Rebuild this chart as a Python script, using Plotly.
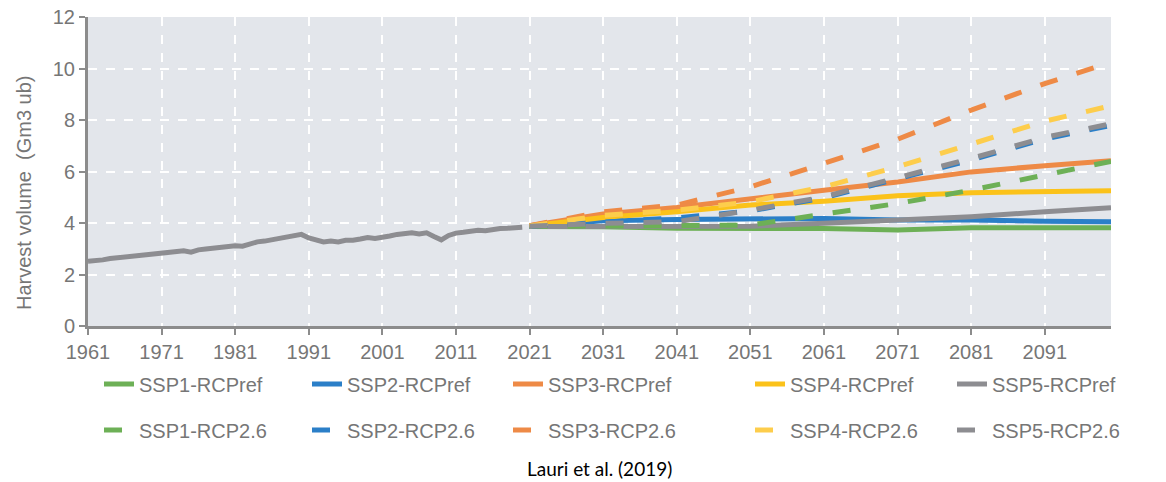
"""
Harvest volume scenarios (Lauri et al. 2019) - line chart, SSP x RCP.
"""

import plotly.graph_objects as go

# historic harvest, 1961-2020
hist_years = list(range(1961, 2021))
hist_values = [
    2.52, 2.53, 2.57, 2.62, 2.65, 2.67, 2.70, 2.73, 2.75, 2.79,
    2.82, 2.83, 2.88, 2.92, 2.87, 2.96, 2.99, 3.03, 3.07, 3.11,
    3.12, 3.10, 3.20, 3.27, 3.30, 3.36, 3.42, 3.47, 3.50, 3.56,
    3.42, 3.32, 3.27, 3.30, 3.27, 3.33, 3.33, 3.38, 3.44, 3.40,
    3.47, 3.50, 3.56, 3.58, 3.62, 3.58, 3.62, 3.48, 3.35, 3.52,
    3.61, 3.64, 3.68, 3.72, 3.70, 3.76, 3.79, 3.80, 3.82, 3.84,
]

proj_years = [2021, 2031, 2041, 2051, 2061, 2071, 2081, 2091, 2100]

ssp1_ref = [3.87, 3.86, 3.80, 3.80, 3.79, 3.73, 3.82, 3.82, 3.82]
ssp2_ref = [3.88, 4.09, 4.14, 4.18, 4.18, 4.12, 4.12, 4.07, 4.05]
ssp3_ref = [3.90, 4.35, 4.61, 4.96, 5.28, 5.60, 5.99, 6.23, 6.42]
ssp4_ref = [3.89, 4.22, 4.44, 4.70, 4.85, 5.06, 5.18, 5.24, 5.26]
ssp5_ref = [3.87, 3.88, 3.86, 3.88, 3.99, 4.12, 4.25, 4.44, 4.60]

ssp1_26 = [3.87, 3.88, 3.88, 3.92, 4.35, 4.76, 5.28, 5.86, 6.40]
ssp2_26 = [3.88, 4.02, 4.20, 4.47, 4.98, 5.72, 6.45, 7.27, 7.80]
ssp3_26 = [3.90, 4.44, 4.70, 5.41, 6.32, 7.26, 8.39, 9.42, 10.25]
ssp4_26 = [3.89, 4.30, 4.50, 4.83, 5.41, 6.19, 7.07, 7.96, 8.56]
ssp5_26 = [3.88, 3.99, 4.05, 4.50, 5.02, 5.77, 6.51, 7.33, 7.86]

x_ticks = list(range(1961, 2100, 10))
y_ticks = [0, 2, 4, 6, 8, 10, 12]

GREEN = "#6DB056"
BLUE = "#2B7FC8"
ORANGE = "#EE8A46"
YELLOW = "#FBC21A"
YELLOW_LIGHT = "#FDCD4C"
GREY = "#8D8D91"
TEXT = "#767676"
FONT = "Liberation Sans, Arial, sans-serif"

ref_series = [
    ("SSP1-RCPref", ssp1_ref, GREEN),
    ("SSP2-RCPref", ssp2_ref, BLUE),
    ("SSP3-RCPref", ssp3_ref, ORANGE),
    ("SSP4-RCPref", ssp4_ref, YELLOW),
    ("SSP5-RCPref", ssp5_ref, GREY),
]
rcp26_series = [
    ("SSP1-RCP2.6", ssp1_26, GREEN),
    ("SSP2-RCP2.6", ssp2_26, BLUE),
    ("SSP3-RCP2.6", ssp3_26, ORANGE),
    ("SSP4-RCP2.6", ssp4_26, YELLOW_LIGHT),
    ("SSP5-RCP2.6", ssp5_26, GREY),
]

# full window; the page body margin is removed in write_html below
W, H = 1166, 482

# legend text columns / rows in pixels (Excel legend is not evenly spaced)
legend_text_x = [139, 347, 548, 790, 992]
legend_row_y = [384, 430]

fig = go.Figure()

fig.add_trace(go.Scatter(
    x=hist_years, y=hist_values, mode="lines", showlegend=False,
    line=dict(color=GREY, width=5), hoverinfo="skip",
))

legends = {}
n = 0
for row, (series, dash) in enumerate([(ref_series, "solid"), (rcp26_series, "18px,20px")]):
    for col, (name, vals, colr) in enumerate(series):
        lg = "legend" if n == 0 else f"legend{n + 1}"
        n += 1
        fig.add_trace(go.Scatter(
            x=proj_years, y=vals, mode="lines", name=name, legend=lg,
            line=dict(color=colr, width=5, dash=dash),
        ))
        legends[lg] = dict(
            xref="container", yref="container",
            xanchor="left", yanchor="middle",
            x=(legend_text_x[col] - 40) / W,
            y=1 - legend_row_y[row] / H,
            bgcolor="rgba(0,0,0,0)",
            font=dict(size=20, color=TEXT, family=FONT),
        )

# plot area in pixels: x 88..1111, y 17..326
pl, pr, pt, pb = 88, 1111, 17, 326

fig.update_layout(
    width=W, height=H,
    paper_bgcolor="white",
    plot_bgcolor="#E3E6EB",
    margin=dict(l=pl, r=W - pr, t=pt, b=H - pb, autoexpand=False),
    font=dict(family=FONT, color=TEXT),
    xaxis=dict(
        range=[1961, 2100], tickvals=x_ticks, ticktext=[str(t) for t in x_ticks],
        showline=True, linecolor="#8C8C8C", linewidth=3,
        ticks="outside", ticklen=6, tickwidth=2, tickcolor="#8C8C8C",
        showgrid=True, gridcolor="white", gridwidth=1.5, griddash="dash",
        zeroline=False, tickfont=dict(size=20, color=TEXT),
    ),
    yaxis=dict(
        range=[0, 12.01], tickvals=y_ticks, ticklabeloverflow="allow",
        showline=True, linecolor="#8C8C8C", linewidth=3,
        ticks="outside", ticklen=6, tickwidth=2, tickcolor="#8C8C8C",
        showgrid=True, gridcolor="white", gridwidth=1.5, griddash="dash",
        zeroline=False, tickfont=dict(size=20, color=TEXT),
    ),
    annotations=[
        dict(
            text="Harvest volume  (Gm3 ub)", textangle=-90,
            xref="paper", yref="paper",
            x=(24 - pl) / (pr - pl), y=(pb - 193) / (pb - pt),
            xanchor="center", yanchor="middle", showarrow=False,
            font=dict(size=20, color=TEXT, family=FONT),
        ),
        dict(
            text="Lauri et al. (2019)", xref="paper", yref="paper",
            x=0.5, y=(pb - 468) / (pb - pt), xanchor="center", yanchor="middle",
            showarrow=False, font=dict(size=19, color="black", family="Lato, sans-serif"),
        ),
    ],
    **legends,
)

fig.write_html(
    "out.html",
    config={"displayModeBar": False},
    post_script="document.body.style.margin = '0';",
)
